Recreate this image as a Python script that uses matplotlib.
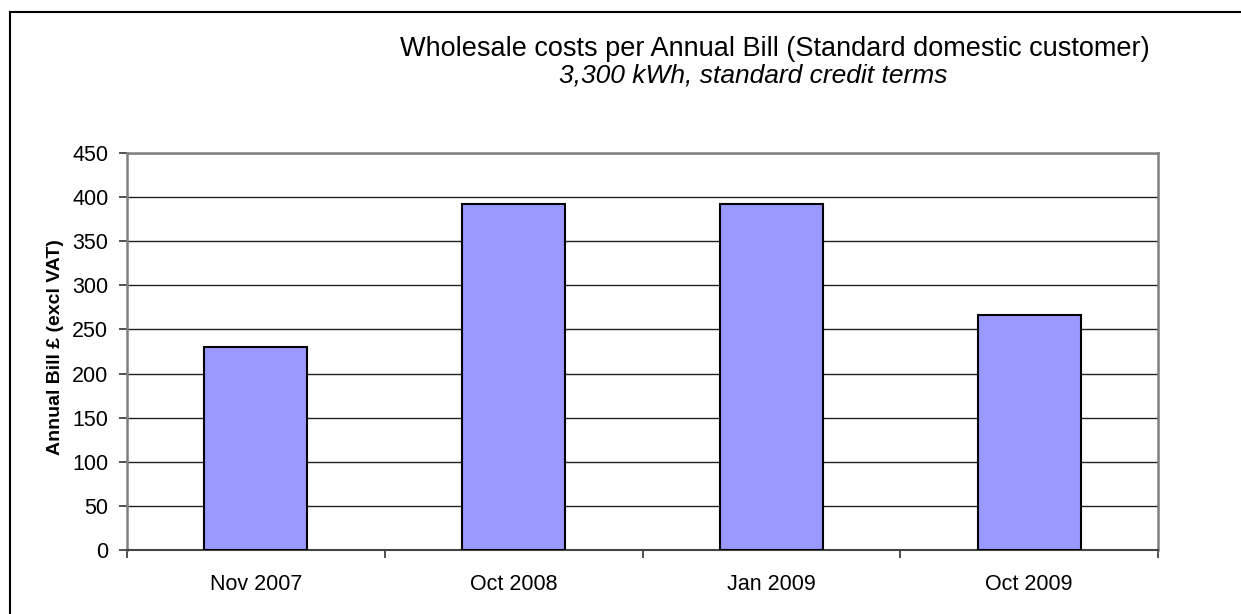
import matplotlib.pyplot as plt
from matplotlib.lines import Line2D
import numpy as np

categories = ['Nov 2007', 'Oct 2008', 'Jan 2009', 'Oct 2009']
bill = [230, 392, 392, 266]
yticks = [0, 50, 100, 150, 200, 250, 300, 350, 400, 450]

plt.rcParams['font.family'] = ['Liberation Sans', 'DejaVu Sans']

W, H = 1241, 614
fig = plt.figure(figsize=(W / 100, H / 100), dpi=100)
ax = fig.add_axes([127 / W, 1 - 550 / H, (1158 - 127) / W, (550 - 153) / H])

x = np.arange(len(categories))
ax.bar(x, bill, width=0.40, color='#9999ff', edgecolor='black', linewidth=1.5, zorder=3)

ax.set_xlim(-0.5, len(categories) - 0.5)
ax.set_ylim(0, 450)
ax.set_yticks(yticks)
ax.yaxis.grid(True, color='#222222', linewidth=1, zorder=1)

ax.set_xticks(x)
ax.set_xticklabels(categories)
ax.set_xticks(np.arange(-0.5, len(categories)), minor=True)
ax.tick_params(axis='x', which='major', length=0, labelsize=15.5, pad=17)
ax.tick_params(axis='x', which='minor', length=5.5, width=1.2, color='#333333', direction='out')
ax.tick_params(axis='y', length=5.5, width=1.2, color='#333333', labelsize=15.5, pad=8)

for s in ['left', 'right', 'top']:
    ax.spines[s].set_color('#808080')
    ax.spines[s].set_linewidth(1.8)
ax.spines['bottom'].set_color('#444444')
ax.spines['bottom'].set_linewidth(1.5)

ax.set_ylabel('Annual Bill £ (excl VAT)', fontsize=14, fontweight='bold')
ax.yaxis.set_label_coords(-0.061, 0.51)

fig.text(775 / W, 1 - 49 / H, 'Wholesale costs per Annual Bill (Standard domestic customer)',
         ha='center', va='center', fontsize=19.5)
fig.text(753 / W, 1 - 75 / H, '3,300 kWh, standard credit terms',
         ha='center', va='center', fontsize=19, style='italic')

# chart frame (only left and top edges visible)
fig.add_artist(Line2D([10 / W, 10 / W], [0, 1 - 12 / H], color='black', linewidth=1.5))
fig.add_artist(Line2D([10 / W, 1], [1 - 12 / H, 1 - 12 / H], color='black', linewidth=1.5))

fig.savefig('out.png', dpi=100)
